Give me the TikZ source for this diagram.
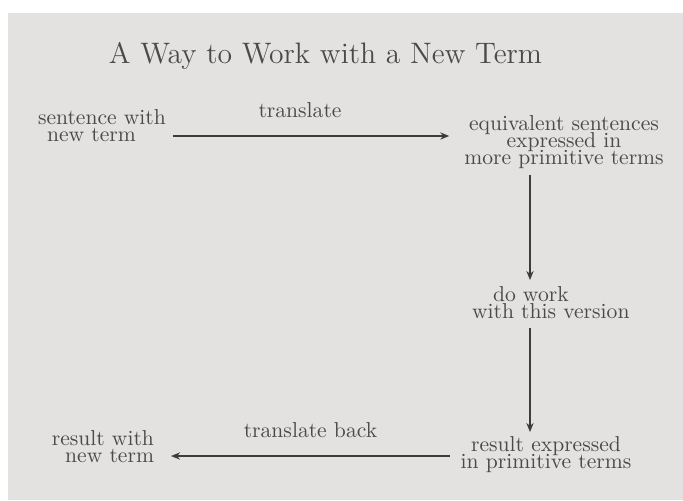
\documentclass[tikz,border=0pt]{standalone}
\usetikzlibrary{arrows.meta}
\definecolor{pagebg}{HTML}{E3E2E0}
\definecolor{inkc}{HTML}{4A4A4A}
\definecolor{arrc}{HTML}{3C3C3C}
\newcommand\mytightlines{\lineskiplimit=-20pt\relax\lineskip=0pt\relax}
\newcommand\myindent[1]{\hbox to #1{}}
\tikzset{
  lbl/.style={inner sep=0pt, outer sep=0pt, text=inkc,
    font={\fontsize{10.8}{8.7}\selectfont\mytightlines}},
  arr/.style={draw=arrc, line width=1.25pt, -{Stealth[length=4.5pt,width=3.6pt]}},
}
\begin{document}
\begin{tikzpicture}[x=0.5pt,y=-0.5pt]
\fill[white] (0,0) rectangle (683,500);
\fill[pagebg] (8,13) rectangle (683,500);
\useasboundingbox (0,0) rectangle (683,500);

\node[anchor=base, inner sep=0pt, text=inkc, font=\fontsize{14.8}{18}\selectfont] (title) at (325.5,63) {A Way to Work with a New Term};

\node[lbl, anchor=north west, align=left] (sw) at (38,109) {sentence with\\{\myindent{4.5pt}}new term};
\node[lbl, anchor=north, align=center] (eq) at (564,115) {equivalent sentences\\expressed in\\more primitive terms};
\node[lbl, anchor=north west, align=left] (dw) at (472,286) {{\myindent{10.5pt}}do work\\with this version};
\node[lbl, anchor=north, align=center] (re) at (546,436) {result expressed\\in primitive terms};
\node[lbl, anchor=north east, align=right] (rw) at (154,430) {result with\\new term};

\node[lbl, anchor=base] (tr) at (300,117) {translate};
\node[lbl, anchor=base] (tb) at (310.5,437) {translate back};

\coordinate (ytop) at (0,136);
\coordinate (ybot) at (0,456);
\coordinate (xv) at (530,0);

\draw[arr, shorten <=3.5pt, shorten >=7.5pt] (sw.east |- ytop) -- (eq.west |- ytop);
\draw[arr, shorten <=3pt, shorten >=3pt] (eq.south -| xv) -- (dw.north -| xv);
\draw[arr, shorten <=4.5pt, shorten >=2pt] (dw.south -| xv) -- (re.north -| xv);
\draw[arr, shorten <=5.5pt, shorten >=8.5pt] (re.west |- ybot) -- (rw.east |- ybot);
\end{tikzpicture}
\end{document}
